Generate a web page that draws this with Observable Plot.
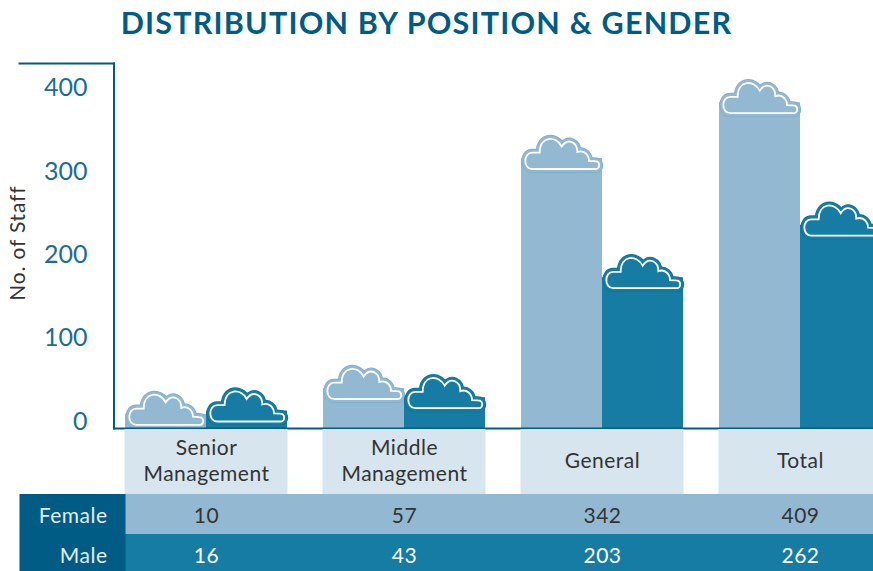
<!DOCTYPE html>
<html>
<head>
<meta charset="utf-8">
<script src="https://cdn.jsdelivr.net/npm/d3@7"></script>
<script src="https://cdn.jsdelivr.net/npm/@observablehq/plot@0.6"></script>
<style>
  html, body { margin: 0; padding: 0; background: #fff; overflow: hidden; }
  body { width: 873px; height: 571px; font-family: Lato, sans-serif; }
  #title { height: 45px; line-height: 45px; padding-right: 20px; margin-bottom: 1px; text-align: center; font-size: 30.5px; font-weight: 700; letter-spacing: 1.2px; color: #005b85; white-space: nowrap; }
  svg { display: block; }
</style>
</head>
<body>
<div id="title">DISTRIBUTION BY POSITION &amp; GENDER</div>
<div id="chart"></div>
<script>
const categories = ["Senior\nManagement", "Middle\nManagement", "General", "Total"];
const femaleValues = [10, 57, 342, 409];
const maleValues = [16, 43, 203, 262];
// Height each column is actually drawn to (short columns are lifted by the cloud).
const femaleDrawn = [35, 66, 342, 409];
const maleDrawn = [39, 55, 199, 262];
const yTicks = [0, 100, 200, 300, 400];

const lightBlue = "#93b9d2", tealBlue = "#167ca3", navy = "#005b85", paleBlue = "#d7e5ef", ink = "#333333", tickBlue = "#1a6d96";
const fontFamily = "Lato, sans-serif";

const bandX = {type: "band", domain: categories, range: [125, 881], paddingInner: 36 / 198, paddingOuter: 0, align: 0};

const cloud = {
  draw(c) {
    c.moveTo(-29.7, 32.5);
    c.lineTo(33.7, 32.5);
    c.bezierCurveTo(38.5, 32.5, 38.5, 24.7, 33, 24.7);
    c.lineTo(27, 24.4);
    c.bezierCurveTo(27, 18.5, 22, 13, 15.3, 15.5);
    c.bezierCurveTo(15.5, 6, 6, 0.5, -0.3, 10);
    c.bezierCurveTo(-6, -1.5, -22.5, -0.5, -22.3, 16.2);
    c.lineTo(-29.7, 16.2);
    c.bezierCurveTo(-39, 16.2, -39, 32.5, -29.7, 32.5);
    c.closePath();
  }
};

const yBottom = -8.4, yTop = 429.6;
const rows = (values, drawn) => categories.map((category, i) => ({category, value: values[i], drawn: drawn[i]}));

function columnMarks(data, fill, edge, side) {
  const shift = side * 40.5;
  return [
    Plot.barY(data, {
      x: "category", y1: () => yBottom, y2: "drawn", fill,
      insetTop: 22,
      insetLeft: side > 0 ? 81 : 0,
      insetRight: side > 0 ? 0 : 81
    }),
    Plot.dot(data, {x: "category", y: "drawn", dx: shift, symbol: cloud, fill: edge, stroke: edge, strokeWidth: 8}),
    Plot.dot(data, {x: "category", y: "drawn", dx: shift, symbol: cloud, fill, stroke: fill, strokeWidth: 6.5}),
    Plot.dot(data, {x: "category", y: "drawn", dx: shift, symbol: cloud, fill, stroke: "#ffffff", strokeWidth: 1.8})
  ];
}

const chart = Plot.plot({
  width: 873, height: 393,
  marginTop: 17, marginBottom: 11, marginLeft: 113.5, marginRight: 0,
  style: {fontFamily, background: "transparent", marginBottom: "-10px"},
  x: {...bandX, axis: null},
  y: {domain: [yBottom, yTop], axis: null},
  marks: [
    ...columnMarks(rows(femaleValues, femaleDrawn), lightBlue, "#7fadc9", -1),
    ...columnMarks(rows(maleValues, maleDrawn), tealBlue, "#0f7098", 1),
    Plot.frame({anchor: "left", stroke: navy, strokeWidth: 2}),
    Plot.frame({anchor: "bottom", stroke: navy, strokeWidth: 2}),
    Plot.ruleY([yTop], {stroke: navy, strokeWidth: 2, insetLeft: -95, insetRight: 758}),
    Plot.axisY({ticks: yTicks, tickSize: 0, tickPadding: 26.5, fontSize: 25, label: null, color: tickBlue, textStroke: "none"}),
    Plot.text(["No. of Staff"], {y: () => 214, x: () => categories[0], dx: -188, rotate: -90, fontSize: 21, fill: ink})
  ]
});
chart.querySelectorAll("text").forEach(t => { if (t.textContent === "No. of Staff") t.style.letterSpacing = "0.8px"; });

const labelStrip = Plot.plot({
  width: 873, height: 65,
  marginTop: 0, marginBottom: 0, marginLeft: 0, marginRight: 0,
  style: {fontFamily, background: "transparent", letterSpacing: "0.5px", position: "relative"},
  x: {...bandX, axis: null},
  marks: [
    Plot.cell(categories, {x: d => d, fill: paleBlue, inset: -0.5}),
    Plot.text(categories, {x: d => d, text: d => d, fontSize: 21, lineHeight: 1.24, fill: ink, dy: -2.5})
  ]
});

function tableRow(name, values, height, background, textColor, textDy) {
  return Plot.plot({
    width: 873, height,
    marginTop: 0, marginBottom: 0, marginLeft: 19, marginRight: 0,
    style: {fontFamily, background: "transparent", letterSpacing: "0.5px", position: "relative"},
    x: {...bandX, axis: null},
    marks: [
      Plot.frame({fill: background, insetLeft: 105, insetTop: -1, insetBottom: -1, insetRight: -1}),
      Plot.frame({fill: navy, insetRight: 748, insetTop: -1, insetBottom: -1}),
      Plot.text([name], {frameAnchor: "right", dx: -766, fontSize: 21, fill: "#e3edf4", textAnchor: "end", dy: textDy}),
      Plot.text(categories, {x: d => d, text: (d, i) => String(values[i]), fontSize: 21, fill: textColor, dy: textDy})
    ]
  });
}

const host = document.getElementById("chart");
host.append(
  chart,
  labelStrip,
  tableRow("Female", femaleValues, 40, lightBlue, ink, 2),
  tableRow("Male", maleValues, 37, tealBlue, "#ffffff", 3)
);
</script>
</body>
</html>
